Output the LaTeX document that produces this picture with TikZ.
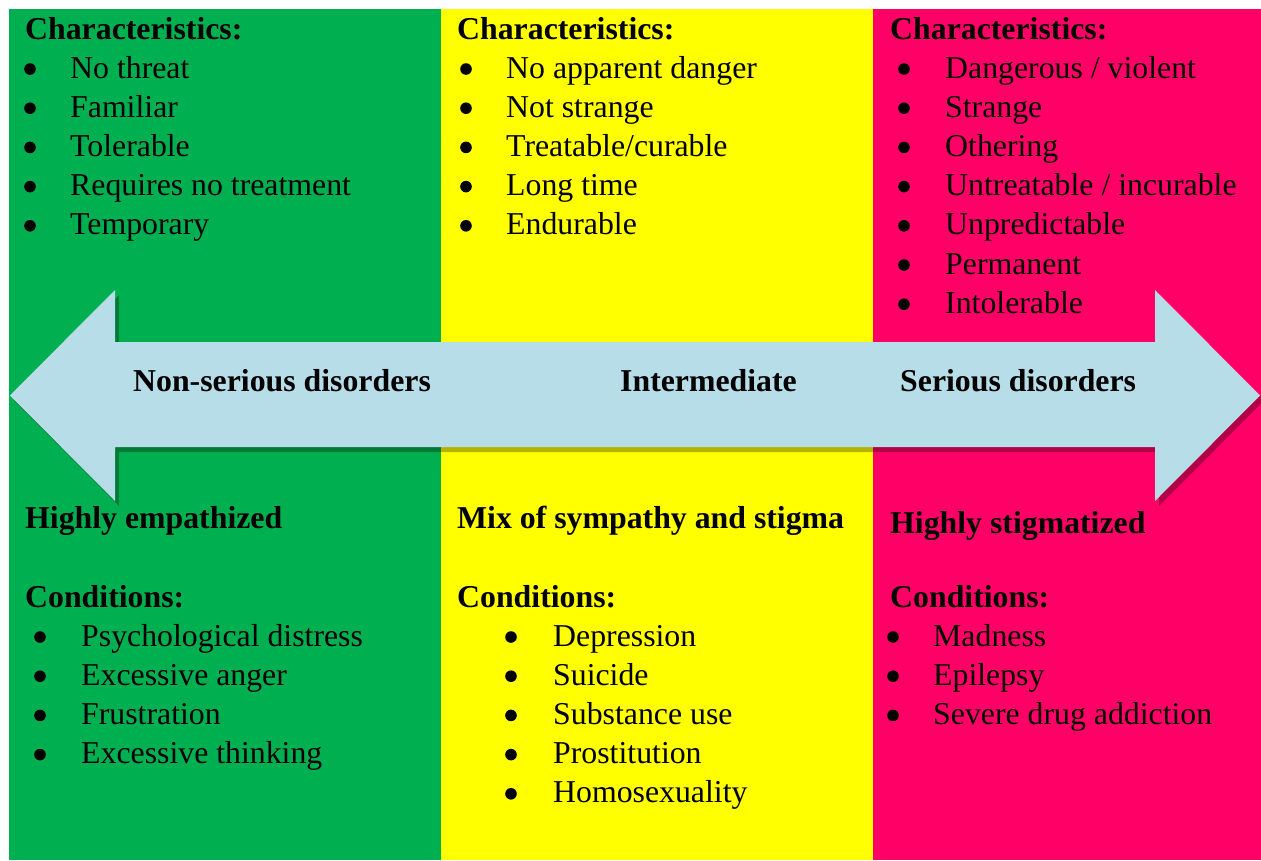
\documentclass[tikz,border=0pt]{standalone}
\usepackage{fontspec}
\setmainfont{Liberation Serif}
\definecolor{cgreen}{HTML}{00B050}
\definecolor{cyellow}{HTML}{FFFF00}
\definecolor{cpink}{HTML}{FF0066}
\definecolor{arrowblue}{HTML}{B7DDE8}
\begin{document}
\begin{tikzpicture}[x=1pt,y=-1pt,
  txt/.style={anchor=base west,inner sep=0pt,font=\fontsize{31.8}{39}\selectfont},
  head/.style={anchor=base west,inner sep=0pt,font=\fontsize{31.8}{39}\selectfont\bfseries},
  bulletdot/.style={fill=black}]
\useasboundingbox (0,0) rectangle (1261,860);

% three coloured columns
\fill[cgreen]  (9,9)   rectangle (441,860);
\fill[cyellow] (441,9) rectangle (873,860);
\fill[cpink]   (873,9) rectangle (1261,860);

% double-headed arrow with drop shadow
\def\arrowshape{(10,395.5) -- (115,290) -- (115,342) -- (1155,342) -- (1155,290)
  -- (1260,395.5) -- (1155,501) -- (1155,447) -- (115,447) -- (115,501) -- cycle}
\fill[black,opacity=0.3,shift={(4,5)}] \arrowshape;
\fill[arrowblue] \arrowshape;

\node[head] (lblA) at (133,391) {Non-serious disorders};
\node[head] (lblB) at (620,391) {Intermediate};
\node[head] (lblC) at (900,391) {Serious disorders};

% headings
\node[head] (chG) at (25,39)  {Characteristics:};
\node[head] (chY) at (457,39) {Characteristics:};
\node[head] (chP) at (890,39) {Characteristics:};

\node[head] (attG) at (25,528)  {Highly empathized};
\node[head] (attY) at (457,528) {Mix of sympathy and stigma};
\node[head] (attP) at (890,533) {Highly stigmatized};

\node[head] (coG) at (25,607)  {Conditions:};
\node[head] (coY) at (457,607) {Conditions:};
\node[head] (coP) at (890,607) {Conditions:};

% bullet lists
\foreach \t [count=\i from 0] in {No threat, Familiar, Tolerable, Requires no treatment, Temporary} {
  \node[txt] (gt\i) at ({70},{78+39.2*\i}) {\t};
  \fill[bulletdot] ([xshift=-40pt,yshift=9pt]gt\i.base west) circle (5.8pt);
}
\foreach \t [count=\i from 0] in {No apparent danger, Not strange, Treatable/curable, Long time, Endurable} {
  \node[txt] (yt\i) at ({506},{78+39.2*\i}) {\t};
  \fill[bulletdot] ([xshift=-40pt,yshift=9pt]yt\i.base west) circle (5.8pt);
}
\foreach \t [count=\i from 0] in {Dangerous / violent, Strange, Othering, Untreatable / incurable, Unpredictable, Permanent, Intolerable} {
  \node[txt] (pt\i) at ({945},{78+39.2*\i}) {\t};
  \fill[bulletdot] ([xshift=-41pt,yshift=9pt]pt\i.base west) circle (5.8pt);
}
\foreach \t [count=\i from 0] in {Psychological distress, Excessive anger, Frustration, Excessive thinking} {
  \node[txt] (gb\i) at ({81},{646+39.2*\i}) {\t};
  \fill[bulletdot] ([xshift=-41pt,yshift=9pt]gb\i.base west) circle (5.8pt);
}
\foreach \t [count=\i from 0] in {Depression, Suicide, Substance use, Prostitution, Homosexuality} {
  \node[txt] (yb\i) at ({553},{646+39.2*\i}) {\t};
  \fill[bulletdot] ([xshift=-42pt,yshift=9pt]yb\i.base west) circle (5.8pt);
}
\foreach \t [count=\i from 0] in {Madness, Epilepsy, Severe drug addiction} {
  \node[txt] (pb\i) at ({933},{646+39.2*\i}) {\t};
  \fill[bulletdot] ([xshift=-40pt,yshift=9pt]pb\i.base west) circle (5.8pt);
}
\end{tikzpicture}
\end{document}
